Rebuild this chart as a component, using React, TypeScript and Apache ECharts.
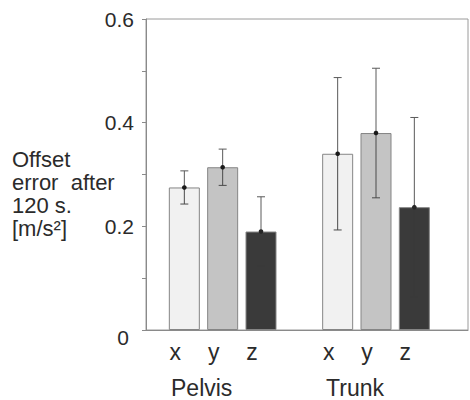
import { useEffect, useRef } from 'react';
import * as echarts from 'echarts';

// Mean offset error and its spread for each sensor axis, per body segment
const groups = ['Pelvis', 'Trunk'];
const components = ['x', 'y', 'z'];
const pelvisMean = [0.275, 0.314, 0.19];
const pelvisSd = [0.032, 0.035, 0.067];
const trunkMean = [0.34, 0.38, 0.237];
const trunkSd = [0.147, 0.125, 0.173];
const yTickLabels = ['0', '0.2', '0.4', '0.6'];

const means = [pelvisMean, trunkMean];
const sds = [pelvisSd, trunkSd];
const barColors = ['#f1f1f1', '#c4c4c4', '#3a3a3a'];
const FONT = '"Liberation Sans", Arial, sans-serif';
const TEXT = '#2b2b2b';

// one empty slot separates the two segment groups
const slot = (g: number, i: number) => g * (components.length + 1) + i + 1;

export default function App() {
  const ref = useRef<HTMLDivElement>(null);

  useEffect(() => {
    document.body.style.margin = '0';
    document.body.style.overflow = 'hidden';
    if (!ref.current) return;
    const chart = echarts.init(ref.current, undefined, { renderer: 'svg' });

    const barData: any[] = [];
    const errData: number[][] = [];
    groups.forEach((_, g) => {
      components.forEach((_, i) => {
        barData.push({
          value: [slot(g, i), means[g][i]],
          itemStyle: { color: barColors[i] },
        });
        errData.push([slot(g, i), means[g][i], sds[g][i], i]);
      });
    });

    const labelAt: Record<number, string> = {};
    groups.forEach((_, g) => components.forEach((c, i) => (labelAt[slot(g, i)] = c)));

    chart.setOption({
      animation: false,
      textStyle: { fontFamily: FONT },
      grid: {
        left: 146,
        right: 2,
        top: 19,
        bottom: 70,
        show: true,
        borderColor: '#9a9a9a',
        borderWidth: 1,
      },
      xAxis: {
        type: 'value',
        min: 0,
        max: 8.4,
        interval: 1,
        splitLine: { show: false },
        axisTick: { show: false },
        axisLine: { show: true, lineStyle: { color: '#8a8a8a' } },
        axisLabel: {
          margin: 10,
          fontSize: 23,
          color: TEXT,
          fontFamily: FONT,
          padding: [0, 18, 0, 0],
          showMaxLabel: false,
          formatter: (v: number) => labelAt[Math.round(v)] ?? '',
        },
      },
      yAxis: {
        type: 'value',
        min: 0,
        max: 0.6,
        interval: 0.1,
        splitLine: { show: false },
        axisLine: { show: true, lineStyle: { color: '#8a8a8a' } },
        axisTick: { show: true, length: 4, inside: false, lineStyle: { color: '#8a8a8a' } },
        axisLabel: {
          margin: 12,
          fontSize: 21,
          color: TEXT,
          fontFamily: FONT,
          formatter: (v: number) => {
            const k = Math.round(v * 10);
            if (k % 2 !== 0) return '';
            const s = yTickLabels[k / 2];
            return k === 0 ? '{zero|' + s + '}' : s;
          },
          rich: {
            zero: {
              fontSize: 21,
              color: TEXT,
              fontFamily: FONT,
              padding: [14, 5, 0, 0],
            },
          },
        },
      },
      series: [
        {
          type: 'bar',
          barWidth: 31,
          data: barData,
          itemStyle: { borderColor: '#858585', borderWidth: 1 },
          z: 2,
        },
        {
          type: 'custom',
          z: 3,
          encode: { x: 0, y: 1 },
          data: errData,
          renderItem: (_p: any, api: any) => {
            const x = api.value(0);
            const m = api.value(1);
            const sd = api.value(2);
            const comp = api.value(3);
            const top = api.coord([x, m + sd]);
            const bot = api.coord([x, m - sd]);
            const mid = api.coord([x, m]);
            const cap = 4;
            const stroke = { stroke: '#5a5a5a', lineWidth: 1 };
            // inside the dark z bar the lower whisker is not visible
            const lower = { stroke: comp === 2 ? barColors[2] : '#4a4a4a', lineWidth: 1 };
            return {
              type: 'group',
              children: [
                { type: 'line', shape: { x1: top[0], y1: top[1], x2: mid[0], y2: mid[1] }, style: stroke },
                { type: 'line', shape: { x1: mid[0], y1: mid[1], x2: bot[0], y2: bot[1] }, style: lower },
                { type: 'line', shape: { x1: top[0] - cap, y1: top[1], x2: top[0] + cap, y2: top[1] }, style: stroke },
                { type: 'line', shape: { x1: bot[0] - cap, y1: bot[1], x2: bot[0] + cap, y2: bot[1] }, style: lower },
                {
                  type: 'circle',
                  shape: { cx: mid[0], cy: mid[1], r: 2.3 },
                  style: { fill: comp === 2 ? '#262626' : '#1a1a1a' },
                },
              ],
            };
          },
        },
      ],
    });

    // segment names under each group of bars
    const groupLabels = groups.map((name, g) => {
      const p = chart.convertToPixel({ gridIndex: 0 }, [slot(g, 1), 0]) as number[];
      return {
        type: 'text',
        x: p[0] - 21,
        y: 388,
        style: {
          text: name,
          fontSize: 23,
          fill: TEXT,
          fontFamily: FONT,
          align: 'center',
          verticalAlign: 'middle',
        },
      };
    });

    chart.setOption({
      graphic: [
        ...groupLabels,
        {
          type: 'text',
          left: 12,
          top: 148,
          style: {
            text: 'Offset\nerror  after\n120 s.\n[m/s²]',
            fontSize: 22,
            lineHeight: 23,
            fill: TEXT,
            fontFamily: FONT,
          },
        },
      ],
    });

    return () => chart.dispose();
  }, []);

  return <div ref={ref} style={{ width: 470, height: 400 }} />;
}
